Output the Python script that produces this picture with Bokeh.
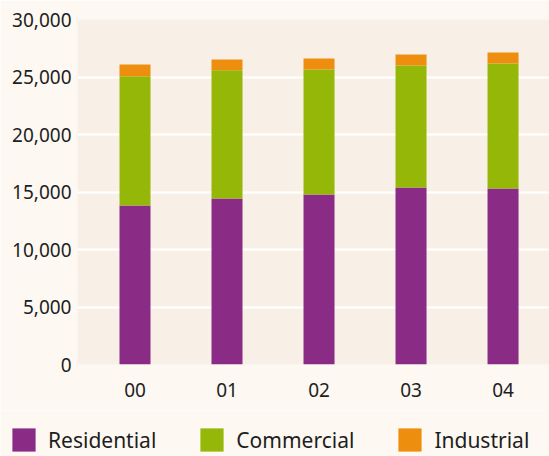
from bokeh.plotting import figure
from bokeh.layouts import column, row
from bokeh.models import (ColumnDataSource, Legend, LegendItem, FixedTicker,
                          NumeralTickFormatter, Range1d)
from bokeh.embed import file_html
from bokeh.resources import INLINE

# ---- data ----
years = ["00", "01", "02", "03", "04"]
residential = [13830, 14430, 14780, 15390, 15300]
commercial = [11240, 11160, 10870, 10610, 10870]
industrial = [1020, 930, 960, 960, 960]
series_names = ["Residential", "Commercial", "Industrial"]
series_colors = ["#8A2B86", "#95B808", "#EE8E0E"]
y_ticks = [0, 5000, 10000, 15000, 20000, 25000, 30000]

PAGE_BG = "#FDF8F2"
PLOT_BG = "#F8F0E6"
TEXT = "#1E1E1E"
FONT = "Noto Sans"

xs = list(range(len(years)))
source = ColumnDataSource(dict(x=xs, Residential=residential,
                               Commercial=commercial, Industrial=industrial))

p = figure(width=549, height=410, output_backend="svg", toolbar_location=None,
           x_range=Range1d(-0.625, 4.505), y_range=Range1d(0, 30000),
           min_border_left=77, min_border_right=0, min_border_top=19,
           min_border_bottom=46)
p.background_fill_color = PLOT_BG
p.border_fill_color = PAGE_BG
p.outline_line_color = None

renderers = p.vbar_stack(series_names, x="x", width=0.337, color=series_colors,
                         source=source, line_color=None)

# axes
p.xaxis.ticker = FixedTicker(ticks=xs)
p.xaxis.major_label_overrides = {i: y for i, y in enumerate(years)}
p.yaxis.ticker = FixedTicker(ticks=y_ticks)
p.yaxis.formatter = NumeralTickFormatter(format="0,0")
for ax in (p.xaxis, p.yaxis):
    ax.axis_line_color = None
    ax.major_tick_line_color = None
    ax.minor_tick_line_color = None
    ax.major_label_text_font = FONT
    ax.major_label_text_font_size = "19px"
    ax.major_label_text_color = TEXT
p.yaxis.major_label_standoff = 0
p.xaxis.major_label_standoff = 12

p.xgrid.grid_line_color = None
p.ygrid.grid_line_color = "white"
p.ygrid.grid_line_width = 2

# ---- legend strip ----
lg = figure(width=549, height=46, output_backend="svg", toolbar_location=None,
            x_range=Range1d(0, 1), y_range=Range1d(0, 1),
            min_border=0, min_border_left=0, min_border_right=0,
            min_border_top=0, min_border_bottom=0)
lg.renderers = []
lg.below = []
lg.left = []
lg.center = []
lg.outline_line_color = None
lg.background_fill_color = PAGE_BG
lg.border_fill_color = PAGE_BG
dummies = [lg.vbar(x=[-10], top=[-10], width=0.1, color=c, line_color=None)
           for c in series_colors]

legend = Legend(items=[LegendItem(label=n, renderers=[r])
                       for n, r in zip(series_names, dummies)],
                orientation="horizontal", location=(9, 2),
                glyph_width=29, glyph_height=29, label_height=29,
                label_standoff=10, spacing=41, padding=0, margin=0,
                label_text_font=FONT, label_text_font_size="21px",
                label_text_color=TEXT, border_line_color=None,
                background_fill_alpha=0)
lg.add_layout(legend, "center")

layout = column(p, row(lg), spacing=0)
open("out.html", "w").write(file_html(layout, INLINE))
